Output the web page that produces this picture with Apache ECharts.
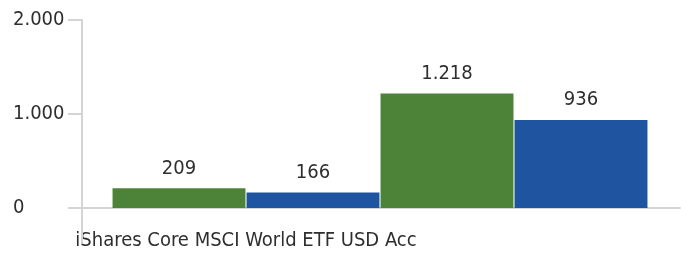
<!DOCTYPE html>
<html><head><meta charset="utf-8">
<script src="https://cdn.jsdelivr.net/npm/echarts@6/dist/echarts.min.js"></script>
<style>html,body{margin:0;padding:0;background:#fff}#c{width:688px;height:268px}</style>
</head><body><div id="c"></div>
<script>
const categories = ['iShares Core MSCI World ETF USD Acc', ''];
const greenValues = [209, 1218];
const blueValues = [166, 936];
const yMin = 0, yMax = 2000, yInterval = 1000;

const FONT = "'DejaVu Sans Condensed','Liberation Sans Narrow',sans-serif";
const FS = 20;
const TXT = '#2e2e2e';
const LINE = '#d4d4d4';
const fmt = v => String(v).replace(/\B(?=(\d{3})+(?!\d))/g, '.');

const chart = echarts.init(document.getElementById('c'), null, {renderer: 'canvas'});
chart.setOption({
  animation: false,
  textStyle: {fontFamily: FONT},
  grid: [
    {left: 82, right: 8, top: 20, bottom: 60},
    {left: 112, right: 40, top: 20, bottom: 60}
  ],
  xAxis: [
    {gridIndex: 0, type: 'category', boundaryGap: false, data: ['', ''],
      axisLine: {show: true, lineStyle: {color: LINE, width: 2}},
      axisTick: {show: false},
      axisLabel: {show: false}},
    {gridIndex: 1, type: 'category', data: categories, axisLine: {show: false}, axisTick: {show: false},
      axisLabel: {show: true, color: TXT, fontFamily: FONT, fontSize: FS, margin: 23, interval: 0}}
  ],
  yAxis: [
    {gridIndex: 0, type: 'value', min: yMin, max: yMax, interval: yInterval,
      axisLine: {show: true, lineStyle: {color: LINE, width: 2}},
      axisTick: {show: true, length: 14, lineStyle: {color: LINE, width: 2}},
      splitLine: {show: false},
      axisLabel: {show: true, color: TXT, fontFamily: FONT, fontSize: FS, align: 'left', margin: 69, formatter: fmt}},
    {gridIndex: 1, type: 'value', min: yMin, max: yMax, interval: yInterval, show: false, splitLine: {show: false}}
  ],
  series: [
    {type: 'bar', xAxisIndex: 1, yAxisIndex: 1, data: greenValues, barGap: '0.8%', barCategoryGap: '0.4%',
      itemStyle: {color: '#4d8338'},
      label: {show: true, position: 'top', distance: 10, color: TXT, fontFamily: FONT, fontSize: FS, formatter: p => fmt(p.value)}},
    {type: 'bar', xAxisIndex: 1, yAxisIndex: 1, data: blueValues, barGap: '0.8%', barCategoryGap: '0.4%',
      itemStyle: {color: '#1f55a0'},
      label: {show: true, position: 'top', distance: 10, color: TXT, fontFamily: FONT, fontSize: FS, formatter: p => fmt(p.value)}}
  ]
});

// extend the y axis line below the zero line (axis decoration derived from the axes)
const zeroY = chart.convertToPixel({yAxisIndex: 0}, 0);
const axisX = chart.convertToPixel({xAxisIndex: 0}, 0);
const extend = zeroY - chart.convertToPixel({yAxisIndex: 0}, 372);
chart.setOption({
  graphic: [{type: 'line', z: 10, silent: true,
    shape: {x1: axisX, y1: zeroY, x2: axisX, y2: zeroY + extend},
    style: {stroke: LINE, lineWidth: 2}}]
});
</script></body></html>
